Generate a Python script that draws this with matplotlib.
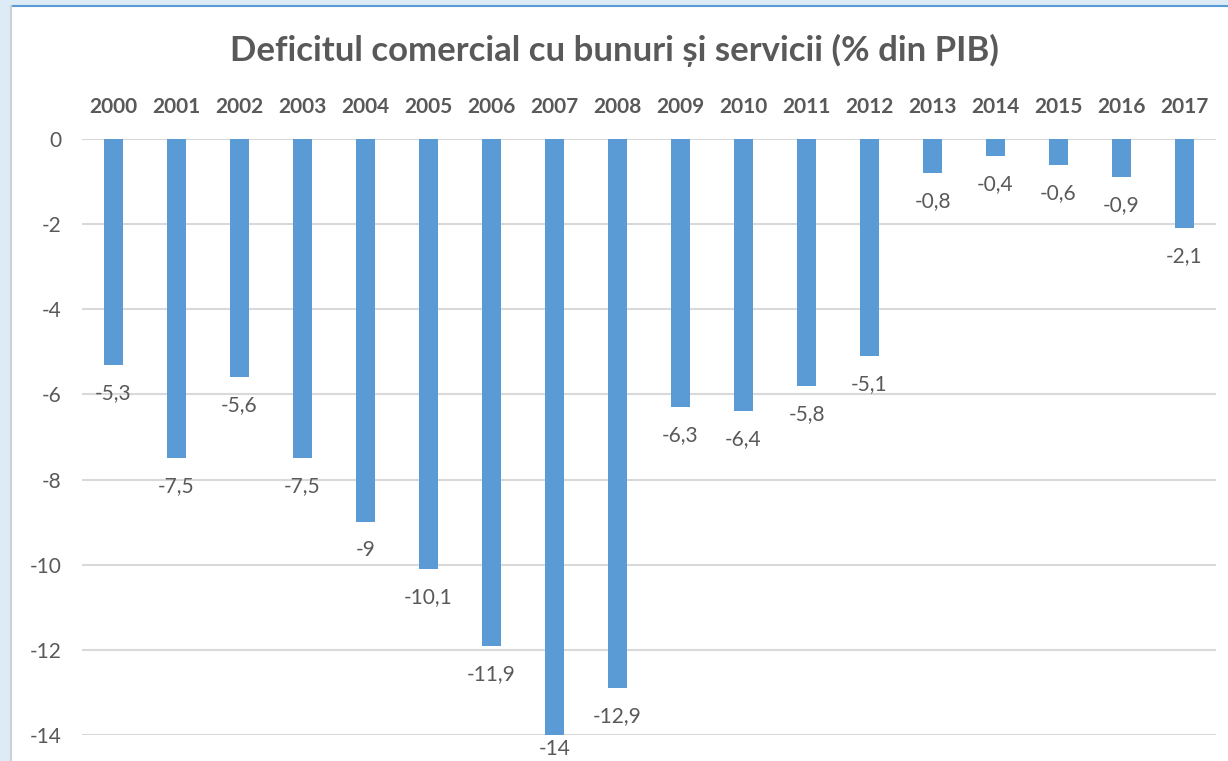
import matplotlib
matplotlib.use("Agg")
import matplotlib.pyplot as plt
from matplotlib.patches import Rectangle
from matplotlib.lines import Line2D

years = ["2000", "2001", "2002", "2003", "2004", "2005", "2006", "2007", "2008",
         "2009", "2010", "2011", "2012", "2013", "2014", "2015", "2016", "2017"]
values = [-5.3, -7.5, -5.6, -7.5, -9, -10.1, -11.9, -14, -12.9,
          -6.3, -6.4, -5.8, -5.1, -0.8, -0.4, -0.6, -0.9, -2.1]
yticks = [0, -2, -4, -6, -8, -10, -12, -14]
title = "Deficitul comercial cu bunuri și servicii (% din PIB)"

plt.rcParams['font.family'] = ['Lato', 'DejaVu Sans']
TXT = "#595959"
BAR = "#5B9BD5"

W, H = 1228, 761
fig = plt.figure(figsize=(W / 100, H / 100), dpi=100)
fig.patch.set_facecolor("#DDEBF7")

# white chart panel with borders
fig.patches.append(Rectangle((11 / W, 0), 1 - 11 / W, 1 - 6 / H, transform=fig.transFigure,
                             facecolor="white", edgecolor="none", zorder=-10))
fig.lines.append(Line2D([11 / W, 1], [1 - 6 / H, 1 - 6 / H], transform=fig.transFigure,
                        color="#5B9BD5", lw=1.5, zorder=-5))
fig.lines.append(Line2D([11 / W, 11 / W], [0, 1 - 6 / H], transform=fig.transFigure,
                        color="#D0D0D0", lw=1.5, zorder=-5))

ax = fig.add_axes([82 / W, 1 - 735 / H, (1216 - 82) / W, (735 - 139) / H])
ax.set_zorder(2)
ax.set_facecolor("none")
x = list(range(len(years)))
ax.bar(x, values, width=0.31, color=BAR, zorder=3)
ax.set_xlim(-0.5, len(years) - 0.5)
ax.set_ylim(-14, 0)
ax.set_yticks(yticks)
ax.set_yticklabels([str(t) for t in yticks], color=TXT, fontsize=15)
ax.grid(axis='y', color="#D9D9D9", lw=1.5, zorder=0)
for s in ax.spines.values():
    s.set_visible(False)
ax.tick_params(axis='y', length=0, pad=15)
ax.xaxis.tick_top()
ax.set_xticks(x)
ax.set_xticklabels(years, fontsize=15, fontweight='bold', color=TXT)
ax.tick_params(axis='x', length=0, pad=16)

ymin = min(yticks)
for xi, v in zip(x, values):
    lab = (f"{v:g}").replace(".", ",")
    off = -13 if v > ymin + 0.5 else -3
    ax.annotate(lab, (xi, v), xytext=(0, off), textcoords="offset points",
                ha='center', va='top', fontsize=15, color=TXT, annotation_clip=False)

fig.text(0.5, 1 - 50 / H, title, ha='center', va='center', fontsize=25,
         fontweight='bold', color=TXT)

fig.savefig("out.png", dpi=100)
